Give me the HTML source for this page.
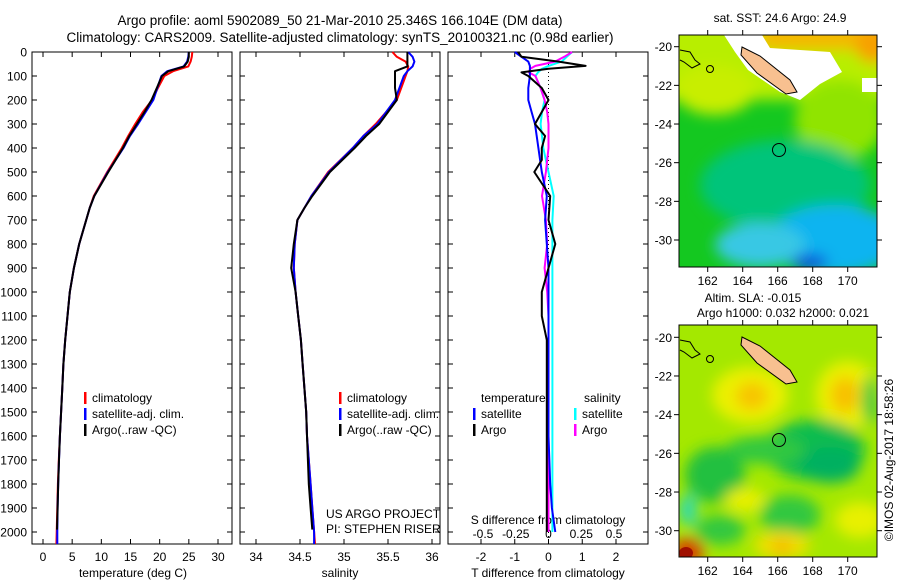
<!DOCTYPE html>
<html><head><meta charset="utf-8"><style>
html,body{margin:0;padding:0;background:#fff;}
svg{display:block;font-family:"Liberation Sans",sans-serif;}
</style></head><body>
<svg id="fig" width="900" height="580" viewBox="0 0 900 580" xmlns="http://www.w3.org/2000/svg">
<defs>
<filter id="blur" x="-20%" y="-20%" width="140%" height="140%"><feGaussianBlur stdDeviation="7"/></filter>
<clipPath id="clipTop"><rect x="679" y="35" width="198" height="232"/></clipPath>
<clipPath id="clipBot"><rect x="679" y="325" width="198" height="232"/></clipPath>
</defs>
<text x="340" y="25" font-size="13.5" text-anchor="middle">Argo profile: aoml 5902089_50 21-Mar-2010 25.346S 166.104E (DM data)</text>
<text x="340" y="42" font-size="13.5" text-anchor="middle">Climatology: CARS2009. Satellite-adjusted climatology: synTS_20100321.nc (0.98d earlier)</text>

<!-- SST map -->
<g>
<g clip-path="url(#clipTop)">
<rect x="679" y="35" width="198" height="232" fill="#14c820"/>
<g filter="url(#blur)">
<rect x="660" y="20" width="240" height="80" fill="#b8ee00"/>
<ellipse cx="715" cy="90" rx="40" ry="25" fill="#c8ee00"/>
<ellipse cx="840" cy="120" rx="45" ry="40" fill="#90e400"/>
<rect x="760" y="20" width="140" height="30" fill="#f4b800"/>
<ellipse cx="873" cy="45" rx="18" ry="18" fill="#f8a000"/>
<ellipse cx="785" cy="185" rx="85" ry="45" fill="#00c47a"/>
<ellipse cx="835" cy="240" rx="65" ry="35" fill="#10b4f0"/>
<ellipse cx="760" cy="245" rx="45" ry="22" fill="#38c8e4"/>
<ellipse cx="810" cy="262" rx="18" ry="8" fill="#1050d8"/>
</g>
<polygon points="724,35 762,35 770,48 830,52 842,72 820,84 800,100 780,92 748,70 735,52" fill="#fff"/>
<rect x="862" y="78" width="15" height="14" fill="#fff"/>
<polygon points="742,47 760,56 790,80 797,92 786,94 757,73 741,55" fill="#f8c090" stroke="#000" stroke-width="1"/>
<circle cx="779" cy="150" r="6.5" fill="none" stroke="#000" stroke-width="1"/>
<path d="M680,50 L690,52 L695,60 L700,64 L692,68 L684,62 L680,60" fill="none" stroke="#000" stroke-width="1"/>
<circle cx="710" cy="69" r="3.5" fill="none" stroke="#000" stroke-width="1"/>
</g>
<rect x="679" y="35" width="198" height="232" fill="none" stroke="#000" stroke-width="1"/>
</g>
<text x="780" y="22" font-size="12" text-anchor="middle">sat. SST: 24.6 Argo: 24.9</text>

<!-- SLA map -->
<g>
<g clip-path="url(#clipBot)">
<rect x="679" y="325" width="198" height="232" fill="#a4e800"/>
<g filter="url(#blur)">
<ellipse cx="750" cy="395" rx="38" ry="28" fill="#ecf000"/>
<ellipse cx="848" cy="395" rx="32" ry="34" fill="#ecf000"/>
<ellipse cx="752" cy="396" rx="16" ry="14" fill="#f8c400"/>
<ellipse cx="845" cy="395" rx="14" ry="18" fill="#f8c000"/>
<ellipse cx="815" cy="450" rx="50" ry="30" fill="#10bc50"/>
<ellipse cx="830" cy="465" rx="30" ry="18" fill="#00b060"/>
<ellipse cx="765" cy="450" rx="40" ry="14" fill="#30c840"/>
<ellipse cx="715" cy="475" rx="30" ry="28" fill="#20c040"/>
<ellipse cx="790" cy="515" rx="30" ry="20" fill="#30c840"/>
<ellipse cx="720" cy="530" rx="25" ry="15" fill="#30c840"/>
<ellipse cx="745" cy="500" rx="20" ry="12" fill="#e8f000"/>
<ellipse cx="782" cy="545" rx="28" ry="14" fill="#f0e000"/>
<ellipse cx="782" cy="547" rx="10" ry="8" fill="#f8b800"/>
<ellipse cx="860" cy="520" rx="25" ry="18" fill="#e8f000"/>
<ellipse cx="688" cy="510" rx="8" ry="16" fill="#20d8c0"/>
<ellipse cx="688" cy="552" rx="16" ry="14" fill="#d84000"/>
<ellipse cx="870" cy="400" rx="8" ry="25" fill="#30c840"/>
</g>
<ellipse cx="686" cy="553" rx="7" ry="6" fill="#a01000"/>
<polygon points="742,337 760,346 790,370 797,382 786,384 757,363 741,345" fill="#f8c090" stroke="#000" stroke-width="1"/>
<circle cx="779" cy="440" r="6.5" fill="none" stroke="#000" stroke-width="1"/>
<path d="M680,340 L690,342 L695,350 L700,354 L692,358 L684,352 L680,350" fill="none" stroke="#000" stroke-width="1"/>
<circle cx="710" cy="359" r="3.5" fill="none" stroke="#000" stroke-width="1"/>
</g>
<rect x="679" y="325" width="198" height="232" fill="none" stroke="#000" stroke-width="1"/>
</g>
<text x="753" y="302" font-size="12" text-anchor="middle">Altim. SLA: -0.015</text>
<text x="783" y="317" font-size="12" text-anchor="middle">Argo h1000: 0.032 h2000: 0.021</text>
<text transform="translate(893,460) rotate(-90)" font-size="12" text-anchor="middle">©IMOS 02-Aug-2017 18:58:26</text>

<g id="charts"></g>
</svg>
<script>
// ---- data ----
const presT = [0,20,40,60,80,100,150,200,250,300,350,400,500,600,650,700,800,900,1000,1100,1200,1300,1400,1500,1600,1700,1800,1900,1990];
const tempArgo = [25.0,25.0,24.8,24.2,21.5,20.4,19.5,18.6,17.4,16.1,14.8,13.7,11.2,8.8,8.0,7.4,6.2,5.3,4.6,4.2,3.8,3.5,3.3,3.1,2.9,2.75,2.6,2.5,2.4];
const presC = [0,20,40,60,80,100,150,200,250,300,350,400,500,600,650,700,800,900,1000,1100,1200,1300,1400,1500,1600,1700,1800,1900,2000,2050];
const tempClim = [25.6,25.5,25.3,24.9,22.3,20.8,19.7,18.7,17.1,15.8,14.6,13.5,11.0,8.7,8.0,7.4,6.2,5.3,4.6,4.2,3.8,3.5,3.3,3.1,2.9,2.7,2.55,2.45,2.35,2.3];
const tempSat = [25.0,24.9,24.7,24.1,21.3,20.3,19.6,18.9,17.6,16.3,14.9,13.8,11.1,8.8,8.0,7.4,6.2,5.3,4.6,4.2,3.8,3.5,3.3,3.1,2.9,2.75,2.6,2.5,2.45,2.45];
const salArgo = [35.72,35.72,35.72,35.72,35.58,35.58,35.58,35.6,35.5,35.4,35.25,35.12,34.84,34.64,34.55,34.47,34.43,34.40,34.45,34.48,34.51,34.53,34.55,34.57,34.58,34.59,34.60,34.62,34.64];
const salClim = [35.55,35.6,35.7,35.73,35.72,35.7,35.65,35.6,35.48,35.36,35.22,35.1,34.82,34.63,34.55,34.47,34.44,34.43,34.45,34.48,34.51,34.53,34.55,34.57,34.58,34.6,34.62,34.64,34.66,34.67];
const salSat = [35.73,35.78,35.8,35.78,35.72,35.68,35.63,35.58,35.48,35.38,35.22,35.1,34.83,34.63,34.55,34.47,34.44,34.43,34.45,34.48,34.51,34.53,34.55,34.57,34.58,34.6,34.62,34.64,34.66,34.66];
const presD = [0,20,40,58,70,85,100,150,200,250,300,350,400,450,500,600,700,800,900,1000,1100,1200,1400,1600,1800,1900,2000];
const dTArgo = [-0.9,-0.8,0.3,1.1,0.0,-0.8,-0.6,-0.2,0.0,-0.2,-0.4,-0.1,-0.2,-0.2,-0.42,0.05,0.0,0.2,0.0,-0.2,-0.2,-0.05,-0.05,-0.05,-0.05,-0.05,-0.05];
const dTSat = [-1.0,-0.8,-0.6,-0.55,-0.55,-0.55,-0.55,-0.6,-0.6,-0.5,-0.4,-0.35,-0.3,-0.25,-0.2,-0.05,-0.1,-0.05,0.0,0.0,0.0,0.0,0.0,0.0,0.05,0.1,0.2];
const dSSat = [0.18,0.14,0.1,0.0,-0.05,-0.08,-0.1,-0.06,-0.03,-0.05,-0.06,-0.05,-0.04,-0.02,0.0,0.04,0.03,0.03,0.03,0.03,0.03,0.03,0.03,0.03,0.03,0.03,0.03];
const dSArgo = [0.18,0.12,0.05,-0.1,-0.14,-0.15,-0.1,-0.06,-0.03,-0.01,0.0,0.0,0.0,-0.01,-0.02,-0.05,-0.02,-0.01,-0.03,-0.01,0.0,0.0,0.0,0.0,0.0,0.0,0.0];
const presTicks = [0,100,200,300,400,500,600,700,800,900,1000,1100,1200,1300,1400,1500,1600,1700,1800,1900,2000];
const tempTicks = [0,5,10,15,20,25,30];
const salTicks = [34,34.5,35,35.5,36];
const salTickLabels = ["34","34.5","35","35.5","36"];
const dTTicks = [-2,-1,0,1,2];
const dSTicks = [-0.5,-0.25,0,0.25,0.5];
const latTicks = [-20,-22,-24,-26,-28,-30];
const lonTicks = [162,164,166,168,170];

const NS = "http://www.w3.org/2000/svg";
const root = document.getElementById('charts');
function mk(tag, attrs, parent){const e=document.createElementNS(NS,tag);for(const k in attrs)e.setAttribute(k,attrs[k]);(parent||root).appendChild(e);return e;}
const yP = p => 52 + p*0.24;
const PTOP=52, PBOT=544;
function lin(d0,d1,r0,r1){return v=>r0+(v-d0)*(r1-r0)/(d1-d0);}
const xT = lin(0,30,43,218);
const xS = lin(34,36,256,432);
const xDT = lin(0,1,548.5,582.25);
const xDS = lin(0,1,548.5,679.5);

function line(pres, vals, xf, color, name, w){
  let d='';
  for(let i=0;i<vals.length;i++){d+=(i?'L':'M')+xf(vals[i]).toFixed(1)+','+yP(pres[i]).toFixed(1);}
  const p=mk('path',{d:d,fill:'none',stroke:color,'stroke-width':w||2,'stroke-linejoin':'round'});
  
  
}
function text(x,y,s,anchor,name,size){
  const t=mk('text',{x:x,y:y,'font-size':size||12,'text-anchor':anchor||'start'});
  t.textContent=s;
  
  
  return t;
}
function panel(x0,name){
  const r=mk('rect',{x:x0,y:PTOP,width:200,height:PBOT-PTOP,fill:'none',stroke:'#000','stroke-width':1});
  
  
  presTicks.forEach(p=>{
    mk('line',{x1:x0,x2:x0+5,y1:yP(p),y2:yP(p),stroke:'#000'});
    mk('line',{x1:x0+195,x2:x0+200,y1:yP(p),y2:yP(p),stroke:'#000'});
  });
}
function xticks(ticks,labels,xf,y,name){
  ticks.forEach((t,i)=>{
    const x=xf(t);
    mk('line',{x1:x,x2:x,y1:PBOT,y2:PBOT-5,stroke:'#000'});
    mk('line',{x1:x,x2:x,y1:PTOP,y2:PTOP+5,stroke:'#000'});
    text(x,y,labels[i],'middle',name);
  });
}
// y-axis labels
presTicks.forEach(p=>{ text(27,yP(p)+4.5,String(p),'end','pressure-tick-label'); });

// Panel 1: temperature
panel(32,'temperature-panel');
xticks(tempTicks,tempTicks.map(String),xT,561,'temperature-tick-label');
line(presC,tempClim,xT,'#ff0000','temp-climatology-line');
line(presC,tempSat,xT,'#0000ff','temp-satellite-line');
line(presT,tempArgo,xT,'#000000','temp-argo-line');
text(133,577,'temperature (deg C)','middle','temperature-axis-title');

// Panel 2: salinity
panel(240,'salinity-panel');
xticks(salTicks,salTickLabels,xS,561,'salinity-tick-label');
line(presC,salClim,xS,'#ff0000','sal-climatology-line');
line(presC,salSat,xS,'#0000ff','sal-satellite-line');
line(presT,salArgo,xS,'#000000','sal-argo-line');
text(340,577,'salinity','middle','salinity-axis-title');
text(326,518,'US ARGO PROJECT','start','project-credit');
text(326,533,'PI: STEPHEN RISER','start','pi-credit');

// legends panel 1 & 2
function legend(x,y,items,name){
  items.forEach((it,i)=>{
    mk('rect',{x:x,y:y+i*16-10,width:2.5,height:12,fill:it[1]});
    text(x+8,y+i*16,it[0],'start',name);
  });
}
const legItems=[['climatology','#ff0000'],['satellite-adj. clim.','#0000ff'],['Argo(..raw -QC)','#000000']];
legend(84,402,legItems,'temp-legend-entry');
legend(339,402,legItems,'sal-legend-entry');

// Panel 3: differences
panel(448,'difference-panel');
mk('line',{x1:548.5,x2:548.5,y1:PTOP,y2:PBOT,stroke:'#000','stroke-dasharray':'1,3'});
xticks(dTTicks,dTTicks.map(String),xDT,561,'tdiff-tick-label');
dSTicks.forEach(t=>text(xDS(t),538,String(t),'middle','sdiff-tick-label'));
text(548,524,'S difference from climatology','middle','sdiff-axis-title');
text(548,577,'T difference from climatology','middle','tdiff-axis-title');
line(presD,dSSat,xDS,'#00ffff','sdiff-satellite-line');
line(presD,dSArgo,xDS,'#ff00ff','sdiff-argo-line');
line(presD,dTSat,xDT,'#0000ff','tdiff-satellite-line');
line(presD,dTArgo,xDT,'#000000','tdiff-argo-line');
text(481,402,'temperature','start','legend-temperature-header');
text(584,402,'salinity','start','legend-salinity-header');
legend(473,418,[['satellite','#0000ff'],['Argo','#000000']],'tdiff-legend-entry');
legend(574,418,[['satellite','#00ffff'],['Argo','#ff00ff']],'sdiff-legend-entry');

// map axes
function mapAxes(top,lat20,lat30,lonY,name){
  const yl=lin(-20,-30,lat20,lat30);
  const xl=lin(162,170,707.7,847.7);
  latTicks.forEach(l=>{
    const y=yl(l);
    mk('line',{x1:679,x2:674,y1:y,y2:y,stroke:'#000'});
    mk('line',{x1:877,x2:882,y1:y,y2:y,stroke:'#000'});
    text(672,y+4.5,String(l),'end',name+'-lat-label');
  });
  lonTicks.forEach(l=>{
    const x=xl(l);
    mk('line',{x1:x,x2:x,y1:top,y2:top-5,stroke:'#000'});
    mk('line',{x1:x,x2:x,y1:top+232,y2:top+237,stroke:'#000'});
    text(x,lonY,String(l),'middle',name+'-lon-label');
  });
}
mapAxes(35,46.7,240,285,'sst-map');
mapAxes(325,337.3,530.7,575,'sla-map');
</script>
</body></html>
